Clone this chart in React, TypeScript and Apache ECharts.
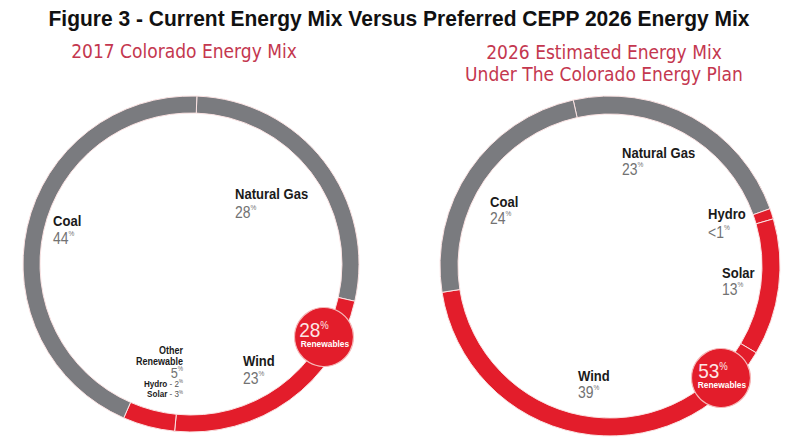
import React, { useEffect, useRef } from 'react';
import * as echarts from 'echarts';

// ---------- data ----------
const TITLE = 'Figure 3 - Current Energy Mix Versus Preferred CEPP 2026 Energy Mix';
const leftSubtitle = ['2017 Colorado Energy Mix'];
const rightSubtitle = ['2026 Estimated Energy Mix', 'Under The Colorado Energy Plan'];

const leftCategories = ['Natural Gas', 'Wind', 'Other Renewable', 'Coal'];
const leftValues = [28, 23, 5, 44];
const leftRenewable = [false, true, true, false];
const otherParts = ['Hydro', 'Solar'];
const otherPartValues = [2, 3];

const rightCategories = ['Natural Gas', 'Hydro', 'Solar', 'Wind', 'Coal'];
const rightValues = [23, 1, 13, 39, 24];
const rightValueLabels = ['23', '<1', '13', '39', '24'];
const rightRenewable = [false, true, true, true, false];

// ---------- layout / style ----------
const RED = '#e31d2b';
const GRAY = '#7a7b7f';
const SUB = '#c4374f';
const COND = '"DejaVu Sans Condensed", "Liberation Sans", sans-serif';
const SANS = '"Liberation Sans", Arial, sans-serif';

const leftPos: Record<string, number[]> = {
  'Natural Gas': [235, 194, 212],
  Wind: [243, 361, 378],
  Coal: [53, 221, 238],
};
const rightPos: Record<string, number[]> = {
  'Natural Gas': [622, 152.5, 169],
  Coal: [490, 202, 218],
  Hydro: [708, 214, 232],
  Solar: [722, 272.5, 289],
  Wind: [578, 376, 392],
};

function scaledText(x: number, y: number, scaleX: number, style: any) {
  return {
    type: 'text', z: 20, silent: true, x, y, scaleX,
    style: { x: 0, y: 0, textVerticalAlign: 'middle', ...style },
  };
}

function nameText(x: number, y: number, text: string, size = 15, align = 'left', sx = 0.87) {
  return scaledText(x, y, sx, {
    text, fill: '#1a1a1a', fontFamily: SANS, fontWeight: 'bold', fontSize: size, lineHeight: size, textAlign: align,
  });
}
function valueText(x: number, y: number, v: string, size = 17, align = 'left', sx = 0.82, color = '#727272') {
  return scaledText(x, y, sx, {
    text: `{v|${v}}{p|%}`, textAlign: align,
    rich: {
      v: { fontFamily: SANS, fontSize: size, fill: color, lineHeight: size },
      p: { fontFamily: SANS, fontSize: Math.round(size * 0.45), fill: color, verticalAlign: 'top', lineHeight: Math.round(size * 0.5) },
    },
  });
}

function pieSeries(cats: string[], vals: number[], ren: boolean[], center: number[], radius: number[], startAngle: number) {
  return {
    type: 'pie', center, radius, startAngle, clockwise: true, silent: true,
    avoidLabelOverlap: false, label: { show: false }, labelLine: { show: false },
    emphasis: { disabled: true },
    itemStyle: { borderColor: '#fbe3e3', borderWidth: 1 },
    data: cats.map((n, i) => ({ name: n, value: vals[i], itemStyle: { color: ren[i] ? RED : GRAY } })),
  };
}

function bubble(cx: number, cy: number, total: number, textX: number) {
  return [
    { type: 'circle', z: 15, silent: true, shape: { cx, cy, r: 29.5 }, style: { fill: RED, stroke: '#f6b9b9', lineWidth: 1.2 } },
    scaledText(textX, cy - 7, 0.95, {
      text: `{v|${total}}{p|%}`, textAlign: 'center',
      rich: {
        v: { fontFamily: SANS, fontSize: 20, fill: '#fde6e6', lineHeight: 20 },
        p: { fontFamily: SANS, fontSize: 10, fill: '#fde6e6', verticalAlign: 'top', lineHeight: 10 },
      },
    }),
    scaledText(cx + 1, cy + 6.5, 0.93, {
      text: 'Renewables', fill: '#ffffff', fontFamily: SANS, fontWeight: 'bold', fontSize: 9, lineHeight: 9, textAlign: 'center',
    }),
  ];
}

export default function App() {
  const ref = useRef<HTMLDivElement>(null);
  useEffect(() => {
    if (!ref.current) return;
    const chart = echarts.init(ref.current, undefined, { renderer: 'svg' });

    const leftTotal = leftValues.reduce((s, v, i) => s + (leftRenewable[i] ? v : 0), 0);
    const rightTotal = rightValues.reduce((s, v, i) => s + (rightRenewable[i] ? v : 0), 0);

    const graphics: any[] = [];
    graphics.push(scaledText(399, 19, 0.955, {
      text: TITLE, fill: '#111', fontFamily: SANS, fontWeight: 'bold', fontSize: 22, textAlign: 'center',
    }));
    leftSubtitle.forEach((t, i) => graphics.push(scaledText(184, 51 + i * 22, 1, {
      text: t, fill: SUB, fontFamily: COND, fontSize: 19, textAlign: 'center',
    })));
    rightSubtitle.forEach((t, i) => graphics.push(scaledText(604, 52 + i * 22, 1, {
      text: t, fill: SUB, fontFamily: COND, fontSize: 19, textAlign: 'center',
    })));

    leftCategories.forEach((n, i) => {
      const p = leftPos[n];
      if (!p) return;
      graphics.push(nameText(p[0], p[1], n));
      graphics.push(valueText(p[0], p[2], String(leftValues[i])));
    });
    // Other Renewable block (right aligned)
    const oi = leftCategories.indexOf('Other Renewable');
    const ox = 183;
    graphics.push(nameText(ox, 350, 'Other', 10, 'right', 0.9));
    graphics.push(nameText(ox, 361, 'Renewable', 10, 'right', 0.9));
    graphics.push(valueText(ox, 372.5, String(leftValues[oi]), 15, 'right', 0.85));
    otherParts.forEach((n, i) => {
      graphics.push(scaledText(ox, 383.5 + i * 10.5, 0.9, {
        text: `{n|${n}}{d| - ${otherPartValues[i]}}{p|%}`, textAlign: 'right',
        rich: {
          n: { fontFamily: SANS, fontWeight: 'bold', fontSize: 9, fill: '#1a1a1a', lineHeight: 9 },
          d: { fontFamily: SANS, fontSize: 9, fill: '#555', lineHeight: 9 },
          p: { fontFamily: SANS, fontSize: 5, fill: '#555', verticalAlign: 'top', lineHeight: 5 },
        },
      }));
    });

    rightCategories.forEach((n, i) => {
      const p = rightPos[n];
      if (!p) return;
      graphics.push(nameText(p[0], p[1], n));
      graphics.push(valueText(p[0], p[2], rightValueLabels[i]));
    });

    graphics.push(...bubble(324, 337, leftTotal, 314));
    graphics.push(...bubble(721, 378, rightTotal, 713));

    chart.setOption({
      animation: false,
      backgroundColor: '#ffffff',
      series: [
        pieSeries(leftCategories, leftValues, leftRenewable, [191, 264], [151, 168], 88),
        pieSeries(rightCategories, rightValues, rightRenewable, [610, 266], [152, 170], 102.5),
      ],
      graphic: { elements: graphics },
    });
    return () => chart.dispose();
  }, []);
  return <div ref={ref} style={{ position: 'absolute', left: 0, top: 0, width: 800, height: 445 }} />;
}
